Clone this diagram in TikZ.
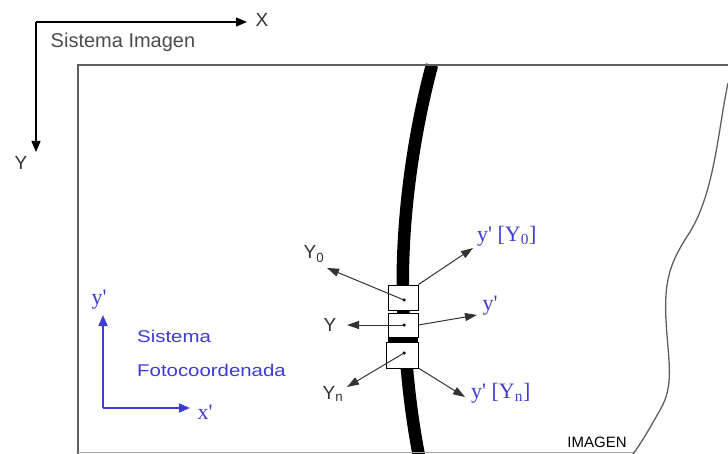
\documentclass[tikz,border=0pt]{standalone}
\usepackage{fontspec}
\setmainfont{Liberation Sans}
\newfontfamily\tnr{Liberation Serif}
\usetikzlibrary{arrows.meta}
\definecolor{fblue}{RGB}{60,60,215}
\definecolor{framegrey}{RGB}{95,95,95}
\begin{document}
\begin{tikzpicture}[x=1pt,y=-1pt,
  axis/.style={line width=1.4pt,-{Triangle[length=11pt,width=9pt]}},
  baxis/.style={fblue,line width=1.6pt,-{Triangle[length=11pt,width=9pt]}},
  vec/.style={draw=black!80,line width=1pt,-{Triangle[length=12pt,width=8pt]}},
  lab/.style={inner sep=0pt,text=black!80,font=\fontsize{19}{19}\selectfont},
  tlab/.style={inner sep=0pt,text=fblue,font=\tnr\fontsize{22}{22}\selectfont},
  blab/.style={inner sep=0pt,anchor=west,text=fblue,font=\fontsize{17}{17}\selectfont},
  boxn/.style={draw,fill=white,line width=0.9pt,inner sep=0pt},
  dotn/.style={circle,fill=black,inner sep=0pt,minimum size=3.5pt}]
\useasboundingbox (0,0) rectangle (728,454);
% top axes (Sistema Imagen)
\coordinate (o) at (36,22);
\coordinate (xt) at (247,22);
\coordinate (yt) at (36,152);
\draw[axis] (o) -- (xt);
\draw[axis] (o) -- (yt);
\node[lab] (X) at (262,20) {X};
\node[lab] (Y) at (21,163) {Y};
\node[inner sep=0pt,font=\fontsize{20}{20}\selectfont,text=black!70] (si) at (123,42) {Sistema Imagen};
% thick curve
\draw[line width=12.5pt,black] (432,65) .. controls (412,140) and (401,225) .. (403,300)
  .. controls (405,370) and (412,420) .. (419,456);
% frame
\draw[framegrey,line width=1.8pt] (78,454) -- (78,65) -- (728,65);
\draw[black!35,line width=1pt] (78,452) -- (634,452);
% wavy edge
\draw[framegrey,line width=1.3pt] (728,83) .. controls (718,130) and (715,190) .. (690,232)
  .. controls (670,262) and (664,280) .. (666,320)
  .. controls (668,360) and (675,385) .. (660,410)
  .. controls (650,428) and (640,445) .. (633,454);
\node[inner sep=0pt,font=\fontsize{15}{15}\selectfont] (img) at (597,442) {IMAGEN};
% boxes
\node[boxn,minimum width=30pt,minimum height=25pt] (b1) at (403,297.5) {};
\node[boxn,minimum width=30pt,minimum height=24pt] (b2) at (403,325) {};
\fill[black] (388,337) rectangle (418,342);
\node[boxn,minimum width=32pt,minimum height=26pt] (b3) at (402.5,355) {};
\node[dotn] (d1) at (404,300) {};
\node[dotn] (d2) at (404,325) {};
\node[dotn] (d3) at (404,353) {};
% vectors
\coordinate (t1) at (327,268);
\coordinate (t2) at (473,248);
\coordinate (t3) at (347,325);
\coordinate (t4) at (477,315);
\coordinate (t5) at (347,387);
\coordinate (t6) at (465,397);
\draw[vec] (d1.center) -- (t1);
\draw[vec] (b1.north east) -- (t2);
\draw[vec] (d2.center) -- (t3);
\draw[vec] (b2.east) -- (t4);
\draw[vec] (d3.center) -- (t5);
\draw[vec] (b3.south east) -- (t6);
\node[lab] (l1) at (314,254) {Y\textsubscript{0}};
\node[lab] (l3) at (330,325) {Y};
\node[lab] (l5) at (333,394) {Y\textsubscript{n}};
\node[tlab,anchor=west] (l2) at (477,236) {y\textquotesingle{} [Y\textsubscript{0}]};
\node[tlab] (l4) at (490,306) {y\textquotesingle};
\node[tlab,anchor=west] (l6) at (471,393) {y\textquotesingle{} [Y\textsubscript{n}]};
% photocoordinate axes
\coordinate (bo) at (103,408);
\coordinate (bxt) at (190,408);
\coordinate (byt) at (103,315);
\draw[baxis] (bo) -- (bxt);
\draw[baxis] (bo) -- (byt);
\node[tlab] (byl) at (99,300) {y\textquotesingle};
\node[tlab] (bxl) at (205,412) {x\textquotesingle};
\node[blab] (s1) at (137,336) {\scalebox{1.2}[1]{Sistema}};
\node[blab] (s2) at (137,370) {\scalebox{1.2}[1]{Fotocoordenada}};
\end{tikzpicture}
\end{document}
